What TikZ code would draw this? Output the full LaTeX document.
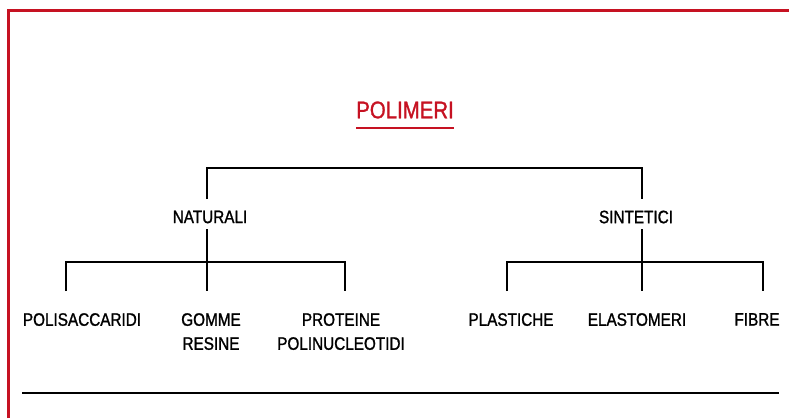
\documentclass[tikz,border=0pt]{standalone}
\usepackage{fontspec}
\setmainfont{Liberation Sans}[FakeStretch=0.85, FakeBold=1.3]
\definecolor{polred}{RGB}{198,18,34}

\begin{document}
\begin{tikzpicture}[x=1pt,y=-1pt,
    ramo/.style={line width=1.6pt},
    voce/.style={font=\fontsize{18}{24}\selectfont, align=center, inner sep=0pt}]
  \useasboundingbox (0,0) rectangle (789,418);
  % cornice rossa
  \draw[polred, line width=3pt] (8,418) -- (8,10) -- (789,10);

  \node[voce, text=polred, font=\fontsize{24}{28}\selectfont] (polimeri) at (405,110) {POLIMERI};
  \draw[polred, line width=2pt] ([yshift=-9pt]polimeri.south west) -- ([yshift=-9pt]polimeri.south east);

  \node[voce] (naturali) at (210,217) {NATURALI};
  \node[voce] (sintetici) at (636,217) {SINTETICI};

  \node[voce, anchor=north] (polisaccaridi) at (82,313) {POLISACCARIDI};
  \node[voce, anchor=north] (gomme) at (211,313) {GOMME\\RESINE};
  \node[voce, anchor=north] (proteine) at (341,313) {PROTEINE\\POLINUCLEOTIDI};
  \node[voce, anchor=north] (plastiche) at (511,313) {PLASTICHE};
  \node[voce, anchor=north] (elastomeri) at (637,313) {ELASTOMERI};
  \node[voce, anchor=north] (fibre) at (757,313) {FIBRE};

  \coordinate (radice) at (424,168);
  \coordinate (nat-su) at (207,199);
  \coordinate (nat-giu) at (207,229);
  \coordinate (nat-ramo) at (207,262);
  \coordinate (sin-su) at (642,199);
  \coordinate (sin-giu) at (642,229);
  \coordinate (sin-ramo) at (642,262);
  \coordinate (pol-su) at (66,291);
  \coordinate (gom-su) at (207,291);
  \coordinate (pro-su) at (345,291);
  \coordinate (pla-su) at (507,291);
  \coordinate (ela-su) at (642,291);
  \coordinate (fib-su) at (763,291);

  \draw[ramo] (nat-su) |- (radice) -| (sin-su);
  \draw[ramo] (nat-giu) -- (gom-su);
  \draw[ramo] (pol-su) |- (nat-ramo) -| (pro-su);
  \draw[ramo] (sin-giu) -- (ela-su);
  \draw[ramo] (pla-su) |- (sin-ramo) -| (fib-su);

  \draw[ramo] (22,393) -- (779,393);
\end{tikzpicture}
\end{document}
